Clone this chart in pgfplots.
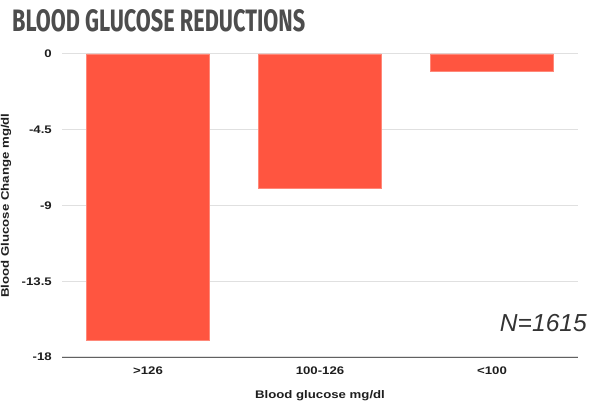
\documentclass[border=0pt]{standalone}
\usepackage{fontspec}
\usepackage{graphicx}
\usepackage{pgfplots}
\pgfplotsset{compat=1.18}
\setmainfont{Liberation Sans}
\newfontfamily\lblfont{Liberation Sans}[FakeStretch=1.2]
\newfontfamily\titlefont{Fira Sans}
\definecolor{barred}{RGB}{255,85,64}
\definecolor{gridgray}{RGB}{224,224,224}
\definecolor{titlegray}{RGB}{77,77,77}
\definecolor{labelblack}{RGB}{30,30,30}
\newcommand{\lbl}{\lblfont\bfseries\fontsize{11bp}{13bp}\selectfont\color{labelblack}}

\begin{document}
\begin{tikzpicture}
\path[use as bounding box] (0,0) rectangle (589bp,410bp);
\begin{axis}[
  at={(62bp,53bp)}, anchor=south west,
  scale only axis,
  width=516bp, height=303bp,
  xmin=-0.5, xmax=2.5,
  ymin=-18, ymax=0,
  xtick={0,1,2},
  xticklabels={>126,100-126,<100},
  ytick={-18,-13.5,-9,-4.5,0},
  yticklabels={-18,-13.5,-9,-4.5,0},
  major tick length=0pt,
  axis x line*=bottom,
  axis y line*=left,
  y axis line style={draw=none},
  x axis line style={draw=black!62, line width=0.8bp, -},
  ymajorgrids,
  grid style={gridgray, line width=1bp},
  xticklabel style={font=\lbl, anchor=north, inner sep=0pt, yshift=-10bp},
  yticklabel style={font=\lbl, anchor=east, inner sep=0pt, xshift=-10bp},
  xlabel={Blood glucose mg/dl},
  ylabel={Blood Glucose Change mg/dl},
  xlabel style={font=\lbl, at={(axis description cs:0.5,0)}, anchor=north, inner sep=0pt, yshift=-33bp},
  ylabel style={font=\lbl, at={(axis description cs:-0.1085,0.5)}, anchor=center, rotate=0, inner sep=0pt},
  ybar,
  bar width=0.715,
  clip=false,
]
\addplot[draw=barred!70!white, line width=0.4bp, fill=barred] coordinates {(0,-17.0) (1,-8.0) (2,-1.05)};
\node[anchor=base east, inner sep=0pt, xshift=9bp, yshift=25bp,
      font=\fontsize{24.6bp}{28bp}\selectfont\itshape, text=black!80]
  at (rel axis cs:1,0) {N=1615};
\end{axis}
\node[anchor=base west, inner sep=0pt, text=titlegray] at (12bp,378bp)
  {\resizebox{293bp}{22bp}{\titlefont\bfseries BLOOD GLUCOSE REDUCTIONS}};
\end{tikzpicture}
\end{document}
